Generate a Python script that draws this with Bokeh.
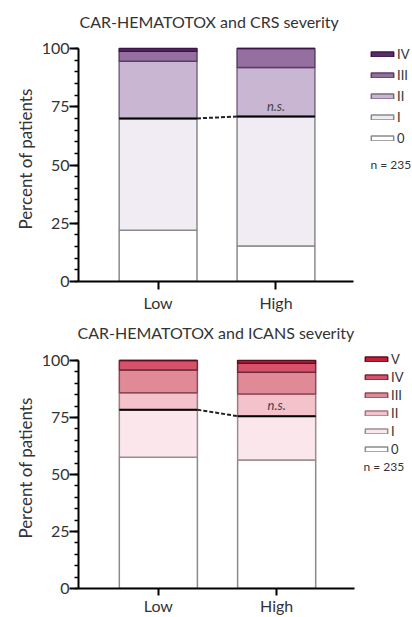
import numpy as np
from bokeh.plotting import figure
from bokeh.models import ColumnDataSource, Range1d, FixedTicker, Legend, LegendItem, Label
from bokeh.layouts import column
from bokeh.embed import file_html
from bokeh.resources import INLINE

# ---------------- data ----------------
groups = ["Low", "High"]

crs_title = "CAR-HEMATOTOX and CRS severity"
crs_grades = ["0", "I", "II", "III", "IV"]
crs_0 = [22.0, 15.2]
crs_I = [48.0, 55.6]
crs_II = [24.5, 21.0]
crs_III = [4.3, 8.2]
crs_IV = [1.2, 0.0]

icans_title = "CAR-HEMATOTOX and ICANS severity"
icans_grades = ["0", "I", "II", "III", "IV", "V"]
icans_0 = [57.6, 56.4]
icans_I = [20.8, 19.2]
icans_II = [7.5, 9.7]
icans_III = [9.9, 9.6]
icans_IV = [4.2, 3.9]
icans_V = [0.0, 1.2]

n_text = "n = 235"
sig_text = "n.s."
y_ticks = [0, 25, 50, 75, 100]

# ---------------- styles ----------------
FONT = "Lato"
TXT = "#333333"
crs_fill = ["#ffffff", "#f1ecf3", "#c9b6d3", "#946f9f", "#5b2a6b"]
crs_line = ["#8a8a8a", "#8a8a8a", "#7a6784", "#5a3d66", "#3a1548"]
icans_fill = ["#ffffff", "#fbe7eb", "#f3c2ca", "#e08a97", "#d5526a", "#c41e3a"]
icans_line = ["#8a8a8a", "#9a8d90", "#9c7a80", "#8a4a56", "#6e2a38", "#5a0f1e"]

X0, X1 = -0.175, 2.158  # visible x-axis extent (data units)


def make_chart(title, grades, series, fills, lines, height, frame_top, bl, axis_px,
               y100_px, y0_px, title_off, xtick_out, xstand,
               leg_xy, leg_spacing, n_xy):
    x = np.arange(len(groups)) + 0.5
    w = 0.66
    data = {"x": x}
    for g, s in zip(grades, series):
        data[g] = s
    src = ColumnDataSource(data)

    frame_w = 412 - bl
    x_end = X0 + (X1 - X0) * frame_w / axis_px
    y_end = 100.0 * (y0_px - frame_top) / (y0_px - y100_px)
    p = figure(width=412, height=height, title=title,
               x_range=Range1d(X0, x_end), y_range=Range1d(0, y_end),
               output_backend="svg", toolbar_location=None,
               min_border_left=bl, min_border_right=0,
               min_border_top=frame_top, min_border_bottom=height - y0_px)
    p.title.align = "left"
    p.title.offset = title_off
    p.title.text_font = FONT
    p.title.text_font_size = "16px"
    p.title.text_font_style = "normal"
    p.title.text_color = TXT
    p.title.standoff = 11
    p.outline_line_color = None
    p.xgrid.visible = False
    p.ygrid.visible = False

    rs = p.vbar_stack(grades, x="x", width=w, source=src,
                      fill_color=fills, line_color=lines, line_width=1.5)

    cum = np.array(series[0]) + np.array(series[1])
    p.segment(x0=x - w / 2, y0=cum, x1=x + w / 2, y1=cum,
              line_color="black", line_width=2)
    p.segment(x0=[x[0] + w / 2], y0=[cum[0]], x1=[x[1] - w / 2], y1=[cum[1]],
              line_color="#222222", line_width=2, line_dash="4 2")
    p.add_layout(Label(x=x[1], y=cum[1], text=sig_text, text_align="center",
                       text_baseline="bottom", y_offset=3, text_font=FONT,
                       text_font_size="13px", text_font_style="italic",
                       text_color="#444444"))

    # axes
    p.xaxis.bounds = (X0, X1)
    p.yaxis.bounds = (0, 100)
    p.xaxis.ticker = FixedTicker(ticks=list(x))
    p.xaxis.major_label_overrides = {float(v): g for v, g in zip(x, groups)}
    p.xaxis.minor_tick_line_color = None
    p.yaxis.ticker = FixedTicker(ticks=y_ticks, minor_ticks=list(range(0, 101, 5)))
    p.yaxis.axis_label = "Percent of patients"
    for ax in (p.xaxis, p.yaxis):
        ax.axis_line_width = 2
        ax.axis_line_color = "black"
        ax.major_tick_line_width = 2
        ax.major_tick_line_color = "black"
        ax.major_tick_in = 0
        ax.major_label_text_font = FONT
        ax.major_label_text_font_size = "16px"
        ax.major_label_text_color = TXT
    p.xaxis.major_tick_out = xtick_out
    p.xaxis.major_label_standoff = xstand
    p.yaxis.major_tick_out = 9
    p.yaxis.minor_tick_line_width = 1.5
    p.yaxis.minor_tick_line_color = "black"
    p.yaxis.minor_tick_in = 0
    p.yaxis.minor_tick_out = 4
    p.yaxis.major_label_standoff = 0
    p.yaxis.axis_label_text_font = FONT
    p.yaxis.axis_label_text_font_size = "17px"
    p.yaxis.axis_label_text_font_style = "normal"
    p.yaxis.axis_label_text_color = TXT
    p.yaxis.axis_label_standoff = 3

    items = [LegendItem(label=g, renderers=[r]) for g, r in zip(grades, rs)][::-1]
    leg = Legend(items=items, location=leg_xy, glyph_width=28, glyph_height=6,
                 label_height=14, spacing=leg_spacing, padding=0, margin=0,
                 label_standoff=1, border_line_alpha=0, background_fill_alpha=0,
                 label_text_font=FONT, label_text_font_size="13px",
                 label_text_color=TXT)
    p.add_layout(leg)
    p.add_layout(Label(x=n_xy[0], y=n_xy[1], x_units="screen", y_units="screen",
                       text=n_text, text_baseline="middle", text_font=FONT,
                       text_font_size="12px", text_color=TXT))
    return p


p1 = make_chart(crs_title, crs_grades, [crs_0, crs_I, crs_II, crs_III, crs_IV],
                crs_fill, crs_line, 314, 36, 72, 280, 48, 281, 1, 8, 3,
                (290, 135), 5, (292, 117))
p2 = make_chart(icans_title, icans_grades,
                [icans_0, icans_I, icans_II, icans_III, icans_IV, icans_V],
                icans_fill, icans_line, 303, 33, 78, 276, 46, 274, -1, 7, 0,
                (284, 131), 2, (285, 122))

layout = column(p1, p2)
open("out.html", "w").write(file_html(layout, INLINE))
